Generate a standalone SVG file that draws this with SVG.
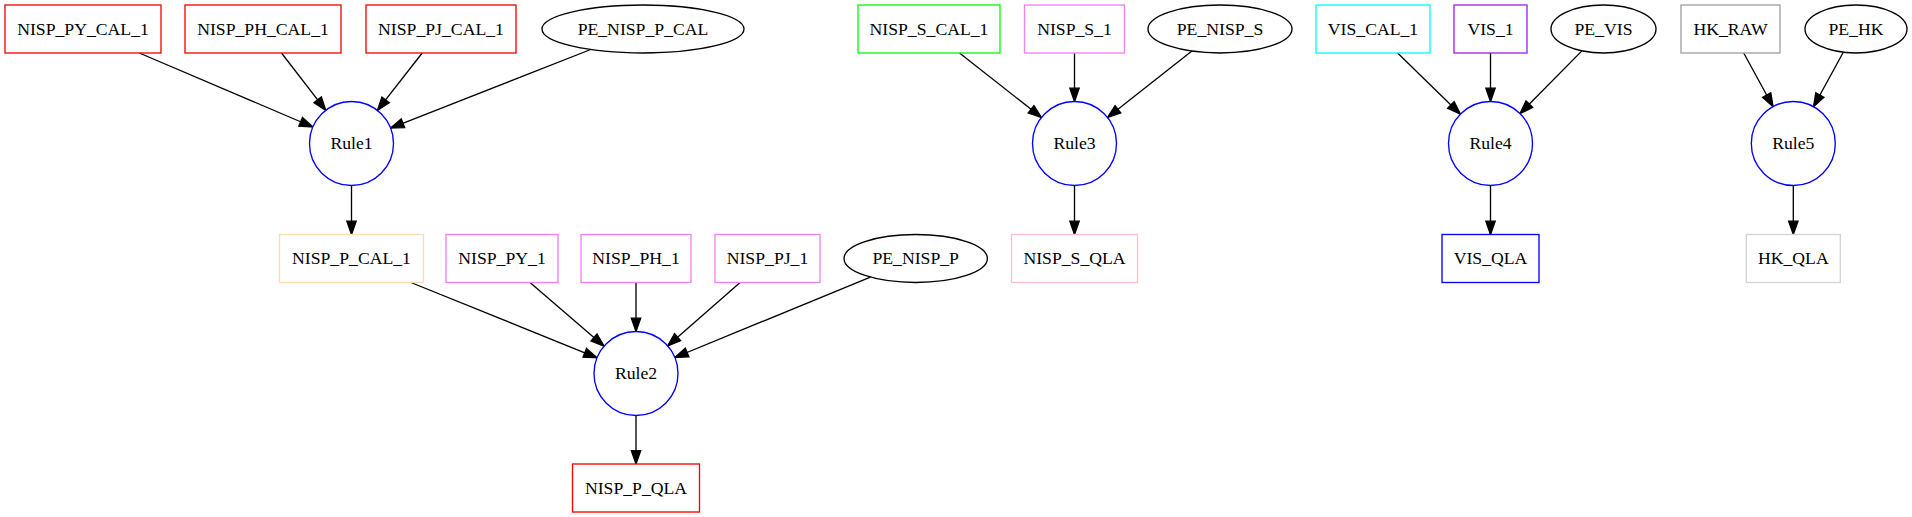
<svg xmlns="http://www.w3.org/2000/svg" width="1912" height="517" viewBox="0 0 1912 517">
<style>
  .n { fill: #ffffff; stroke-width: 1.33; }
  .t { font-family: "Liberation Serif", "Times New Roman", serif; font-size: 17.7px; text-anchor: middle; fill: #000000; }
  .rule { stroke: #0000ff; }
  .pe { stroke: #000000; }
  .e { stroke: #000000; stroke-width: 1.33; fill: none; marker-end: url(#arr); }
</style>
<defs>
  <marker id="arr" markerUnits="userSpaceOnUse" refX="13.3" refY="0" orient="auto" overflow="visible" markerWidth="16" markerHeight="12">
    <path d="M0,-4.67 L13.3,0 L0,4.67 Z" fill="#000000" stroke="#000000" stroke-width="1.33" stroke-linejoin="miter"/>
  </marker>
</defs>
<rect width="1912" height="517" fill="#ffffff"/>

<g id="connectors">
  <line class="e" x1="139.3" y1="53" x2="312.9" y2="127.0"/>
  <line class="e" x1="281.5" y1="53" x2="325.8" y2="110.3"/>
  <line class="e" x1="422.2" y1="53" x2="377.4" y2="110.4"/>
  <line class="e" x1="590.7" y1="49.5" x2="390.6" y2="128.1"/>
  <line class="e" x1="351.5" y1="185.5" x2="351.5" y2="234.5"/>

  <line class="e" x1="410.9" y1="282.5" x2="597.1" y2="357.8"/>
  <line class="e" x1="530.0" y1="282.5" x2="604.1" y2="346.2"/>
  <line class="e" x1="636" y1="282.5" x2="636" y2="331.5"/>
  <line class="e" x1="740.1" y1="282.5" x2="667.6" y2="345.9"/>
  <line class="e" x1="870.4" y1="277.1" x2="674.8" y2="357.5"/>
  <line class="e" x1="636" y1="415.5" x2="636" y2="464"/>

  <line class="e" x1="959.5" y1="53" x2="1041.5" y2="117.5"/>
  <line class="e" x1="1074.5" y1="53" x2="1074.5" y2="101.5"/>
  <line class="e" x1="1191.9" y1="51.1" x2="1107.5" y2="117.5"/>
  <line class="e" x1="1074.5" y1="185.5" x2="1074.5" y2="234.5"/>

  <line class="e" x1="1397.6" y1="53" x2="1460.4" y2="114.2"/>
  <line class="e" x1="1490.5" y1="53" x2="1490.5" y2="101.5"/>
  <line class="e" x1="1581.9" y1="50.9" x2="1520.0" y2="113.6"/>
  <line class="e" x1="1490.5" y1="185.5" x2="1490.5" y2="234.5"/>

  <line class="e" x1="1743.7" y1="53" x2="1773.1" y2="106.7"/>
  <line class="e" x1="1843.3" y1="52.2" x2="1813.5" y2="106.7"/>
  <line class="e" x1="1793.3" y1="185.5" x2="1793.3" y2="234.5"/>
</g>

<g id="NISP_PY_CAL_1"><rect class="n" x="5" y="5" width="156" height="48" stroke="#ff0000"/><text class="t" x="83" y="34.5">NISP_PY_CAL_1</text></g>
<g id="NISP_PH_CAL_1"><rect class="n" x="185" y="5" width="156" height="48" stroke="#ff0000"/><text class="t" x="263" y="34.5">NISP_PH_CAL_1</text></g>
<g id="NISP_PJ_CAL_1"><rect class="n" x="366" y="5" width="150" height="48" stroke="#ff0000"/><text class="t" x="441" y="34.5">NISP_PJ_CAL_1</text></g>
<g id="PE_NISP_P_CAL"><ellipse class="n pe" cx="643" cy="29" rx="101" ry="24"/><text class="t" x="643" y="34.5">PE_NISP_P_CAL</text></g>
<g id="NISP_S_CAL_1"><rect class="n" x="858" y="5" width="142" height="48" stroke="#00ff00"/><text class="t" x="929" y="34.5">NISP_S_CAL_1</text></g>
<g id="NISP_S_1"><rect class="n" x="1024.5" y="5" width="100" height="48" stroke="#ee82ee"/><text class="t" x="1074.5" y="34.5">NISP_S_1</text></g>
<g id="PE_NISP_S"><ellipse class="n pe" cx="1220" cy="29" rx="72" ry="24"/><text class="t" x="1220" y="34.5">PE_NISP_S</text></g>
<g id="VIS_CAL_1"><rect class="n" x="1316" y="5" width="114" height="48" stroke="#00ffff"/><text class="t" x="1373" y="34.5">VIS_CAL_1</text></g>
<g id="VIS_1"><rect class="n" x="1454" y="5" width="73" height="48" stroke="#a020f0"/><text class="t" x="1490.5" y="34.5">VIS_1</text></g>
<g id="PE_VIS"><ellipse class="n pe" cx="1603.5" cy="29" rx="52.5" ry="24"/><text class="t" x="1603.5" y="34.5">PE_VIS</text></g>
<g id="HK_RAW"><rect class="n" x="1681" y="5" width="99" height="48" stroke="#a0a0a0"/><text class="t" x="1730.5" y="34.5">HK_RAW</text></g>
<g id="PE_HK"><ellipse class="n pe" cx="1856" cy="29" rx="51" ry="24"/><text class="t" x="1856" y="34.5">PE_HK</text></g>

<g id="Rule1"><circle class="n rule" cx="351.5" cy="143.5" r="42"/><text class="t" x="351.5" y="149">Rule1</text></g>
<g id="Rule3"><circle class="n rule" cx="1074.5" cy="143.5" r="42"/><text class="t" x="1074.5" y="149">Rule3</text></g>
<g id="Rule4"><circle class="n rule" cx="1490.5" cy="143.5" r="42"/><text class="t" x="1490.5" y="149">Rule4</text></g>
<g id="Rule5"><circle class="n rule" cx="1793.3" cy="143.5" r="42"/><text class="t" x="1793.3" y="149">Rule5</text></g>

<g id="NISP_P_CAL_1"><rect class="n" x="279.5" y="234.5" width="144" height="48" stroke="#ffdab9"/><text class="t" x="351.5" y="264">NISP_P_CAL_1</text></g>
<g id="NISP_PY_1"><rect class="n" x="446" y="234.5" width="112" height="48" stroke="#ee82ee"/><text class="t" x="502" y="264">NISP_PY_1</text></g>
<g id="NISP_PH_1"><rect class="n" x="581" y="234.5" width="110" height="48" stroke="#ee82ee"/><text class="t" x="636" y="264">NISP_PH_1</text></g>
<g id="NISP_PJ_1"><rect class="n" x="715" y="234.5" width="105" height="48" stroke="#ee82ee"/><text class="t" x="767.5" y="264">NISP_PJ_1</text></g>
<g id="PE_NISP_P"><ellipse class="n pe" cx="915.7" cy="258.5" rx="71.7" ry="24"/><text class="t" x="915.7" y="264">PE_NISP_P</text></g>
<g id="NISP_S_QLA"><rect class="n" x="1011.5" y="234.5" width="126" height="48" stroke="#ffc0cb"/><text class="t" x="1074.5" y="264">NISP_S_QLA</text></g>
<g id="VIS_QLA"><rect class="n" x="1442" y="234.5" width="97" height="48" stroke="#0000ff"/><text class="t" x="1490.5" y="264">VIS_QLA</text></g>
<g id="HK_QLA"><rect class="n" x="1746.3" y="234.5" width="94" height="48" stroke="#d3d3d3"/><text class="t" x="1793.3" y="264">HK_QLA</text></g>

<g id="Rule2"><circle class="n rule" cx="636" cy="373.5" r="42"/><text class="t" x="636" y="379">Rule2</text></g>

<g id="NISP_P_QLA"><rect class="n" x="572.5" y="464" width="127" height="48" stroke="#ff0000"/><text class="t" x="636" y="493.5">NISP_P_QLA</text></g>
</svg>
